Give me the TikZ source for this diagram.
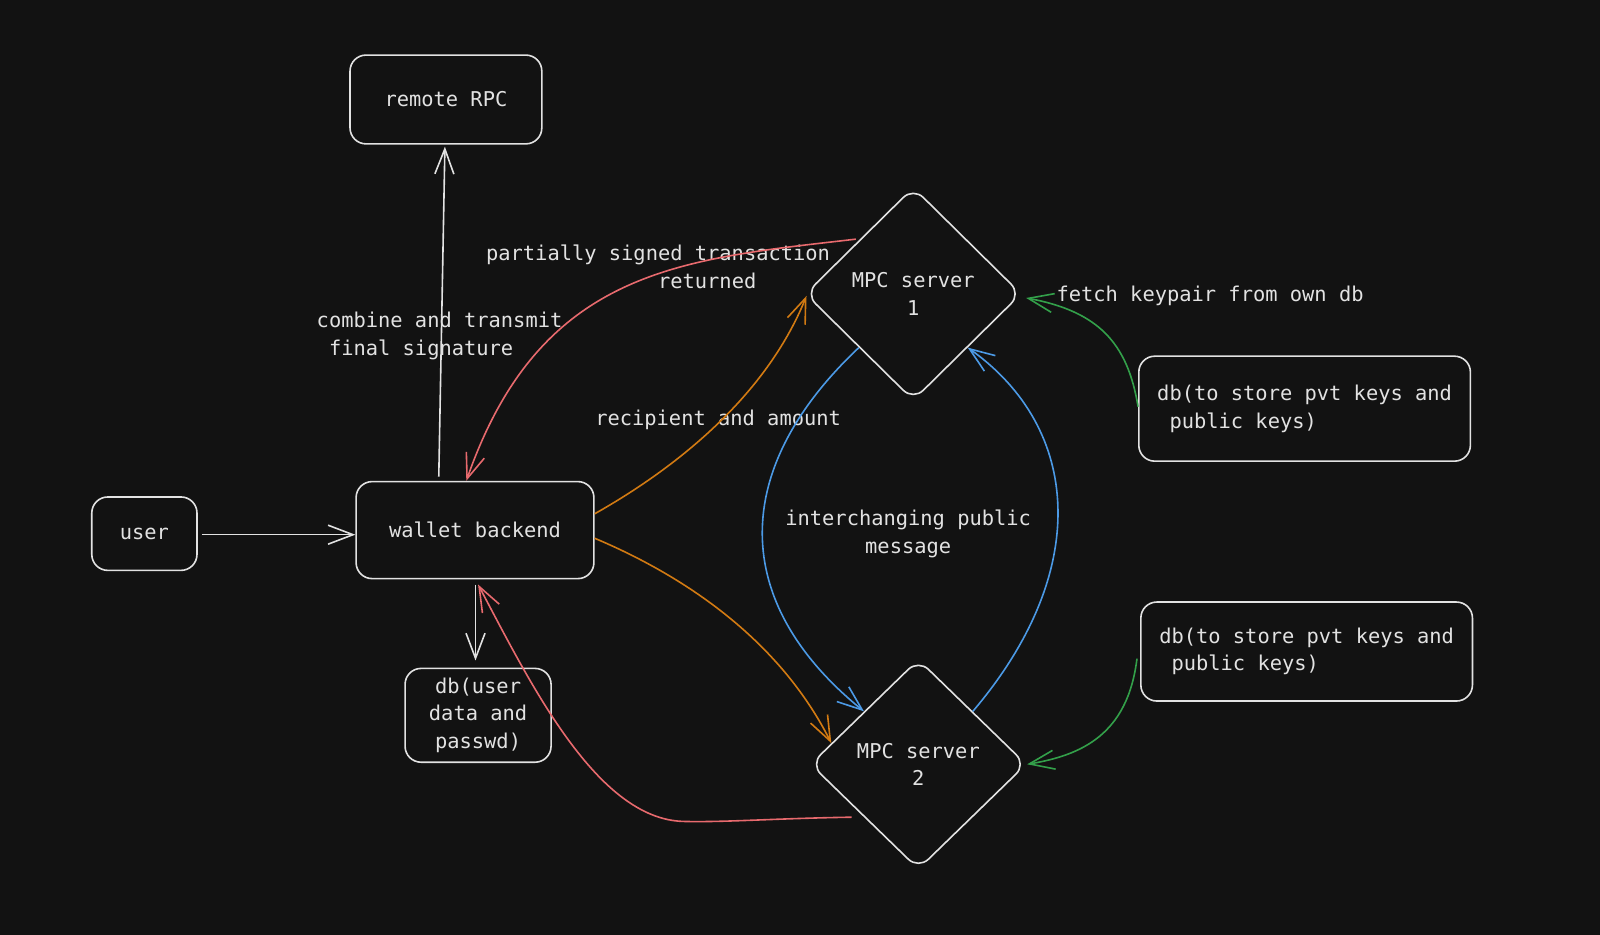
\documentclass[tikz,border=0pt]{standalone}
\usepackage{fontspec}
\setmonofont{DejaVu Sans Mono}
\usetikzlibrary{shapes.geometric,arrows.meta,calc}
\definecolor{bg}{HTML}{121212}
\definecolor{ink}{HTML}{E2E2E2}
\definecolor{cred}{HTML}{E86A6E}
\definecolor{corange}{HTML}{D27A12}
\definecolor{cblue}{HTML}{4C9AE6}
\definecolor{cgreen}{HTML}{33A04A}
\begin{document}
\begin{tikzpicture}[x=0.5102pt,y=-0.5102pt,
  font=\ttfamily\fontsize{10.2}{13.8}\selectfont, text=ink,
  box/.style={draw=ink,line width=0.8pt,rounded corners=8pt,inner sep=0pt,align=center},
  dia/.style={draw=ink,line width=0.8pt,diamond,rounded corners=7pt,inner sep=0pt,align=center},
  conn/.style={line width=0.8pt,-{Straight Barb[length=12.5pt,width=9.5pt]}},
  lbl/.style={inner sep=0pt,align=left,anchor=west}]
\path[fill=bg] (0,0) rectangle (1568,916.3);
% nodes
\node[box,minimum width=95.9pt,minimum height=44.4pt] (rpc) at (437,97.5) {remote RPC};
\node[box,minimum width=52.6pt,minimum height=36.7pt] (user) at (141.5,523) {user};
\node[box,minimum width=118.9pt,minimum height=48.5pt] (wallet) at (465.5,519.5) {wallet backend};
\node[box,minimum width=73pt,minimum height=46.9pt] (dbu) at (468.5,701) {db(user\\data and\\passwd)};
\node[dia,minimum width=108pt,minimum height=106.6pt] (mpc1) at (895,288) {MPC server\\1};
\node[dia,minimum width=108pt,minimum height=105pt] (mpc2) at (900,749) {MPC server\\2};
\node[box,align=left,minimum width=165.8pt,minimum height=52.5pt] (db1) at (1278.5,400.5) {db(to store pvt keys and\\\phantom{x}public keys)};
\node[box,align=left,minimum width=165.8pt,minimum height=49.5pt] (db2) at (1280.5,638.5) {db(to store pvt keys and\\\phantom{x}public keys)};
% labels
\node[lbl] (l1) at (476,263.5) {partially signed transaction\\\phantom{partially sign}returned};
\node[lbl] (l2) at (310,329) {combine and transmit\\\phantom{x}final signature};
\node[lbl] (l3) at (583,411) {recipient and amount};
\node[inner sep=0pt,align=center] (l4) at (890,523) {interchanging public\\message};
\node[lbl] (l5) at (1035,290) {fetch keypair from own db};
% connectors
\draw[conn,ink] ($(user.east)+(4,1)$) -- ($(wallet.west)+(0,4.5)$);
\draw[conn,ink] ($(wallet.north)+(-35.5,-4)$) -- ($(rpc.south)+(-1,2)$);
\draw[conn,ink] ($(wallet.south)+(0.5,5)$) -- ($(dbu.north)+(-2.5,-7)$);
\draw[conn,cred] ($(mpc1.north west)+(-3,-1)$) .. controls (670,254) and (530,262) .. ($(wallet.north)+(-8.5,0)$);
\draw[conn,cred] ($(mpc2.south west)+(-12,0)$) .. controls (760,802) and (710,806) .. (670,805) .. controls (585,803) and (520,670) .. ($(wallet.south)+(3,5)$);
\draw[conn,corange] ($(wallet.east)+(0,-16)$) .. controls (660,460) and (750,390) .. ($(mpc1.west)+(2,2)$);
\draw[conn,corange] ($(wallet.east)+(0,8)$) .. controls (660,560) and (760,620) .. ($(mpc2.west)!0.2!(mpc2.north)$);
\draw[conn,cblue] (mpc1.south west) .. controls (715,460) and (715,590) .. (mpc2.north west);
\draw[conn,cblue] (mpc2.north east) .. controls (1070,560) and (1060,420) .. (mpc1.south east);
\draw[conn,cgreen] ($(db1.west)+(0,-2)$) .. controls (1105,335) and (1075,305) .. ($(mpc1.east)+(4,4)$);
\draw[conn,cgreen] ($(db2.west)+(-3,7)$) .. controls (1105,720) and (1060,740) .. (mpc2.east);
\end{tikzpicture}
\end{document}
